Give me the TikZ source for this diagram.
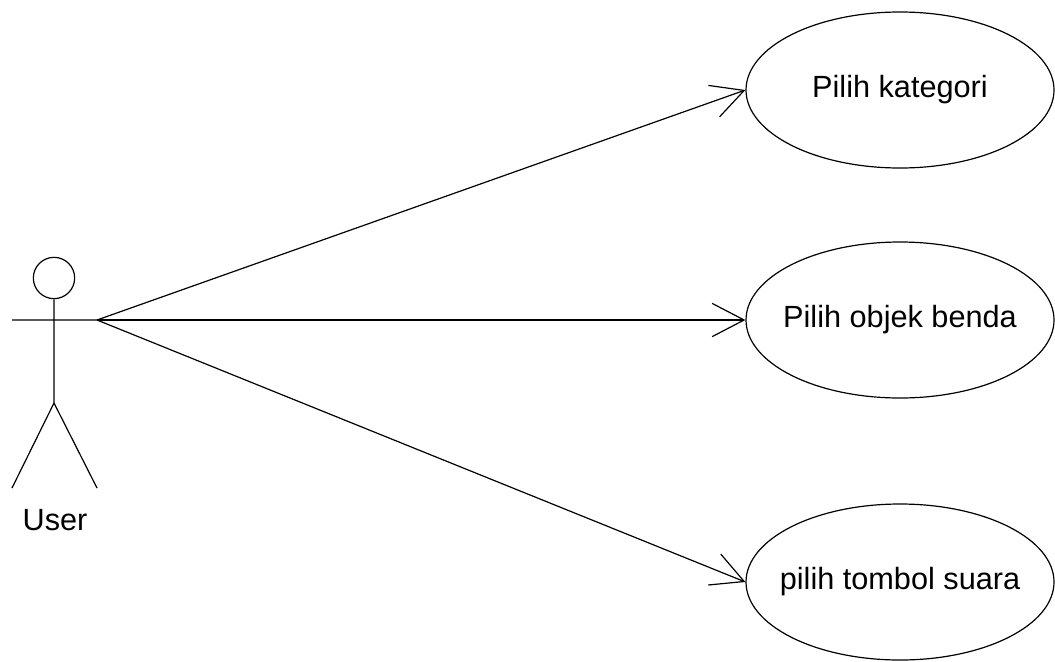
\documentclass[tikz,border=0pt]{standalone}
\usepackage{fontspec}
\setmainfont{Liberation Sans}
\usetikzlibrary{shapes.geometric,arrows.meta}

\tikzset{
  usecase/.style={draw,ellipse,minimum width=231pt,minimum height=117pt,inner ysep=0pt,inner xsep=-30pt,font=\fontsize{23}{26}\selectfont},
  assoc/.style={-{Straight Barb[length=24pt,width=25pt]}}
}

\begin{document}
\begin{tikzpicture}[x=0.75pt,y=-0.75pt,line width=0.9pt]
\useasboundingbox (0,0) rectangle (1055,661);
% actor
\coordinate (hip) at (54,403);
\coordinate (hand) at (97,320);
\node[draw,circle,minimum size=31pt,inner sep=0pt] (head) at (54,278){};
\draw (head.south) -- (hip)
(12,320) -- (hand)
(hip) -- (12,488)
(hip) -- (97,488);
\node[font=\fontsize{23}{26}\selectfont] (user) at (55,520){User};
% use cases
\node[usecase] (kategori) at (900,90){Pilih kategori};
\node[usecase] (objek) at (900,320){Pilih objek benda};
\node[usecase] (suara) at (900,582){pilih tombol suara};
\draw[assoc] (hand) -- (kategori.west);
\draw[assoc] (hand) -- (objek.west);
\draw[assoc] (hand) -- (suara.west);
\end{tikzpicture}
\end{document}
